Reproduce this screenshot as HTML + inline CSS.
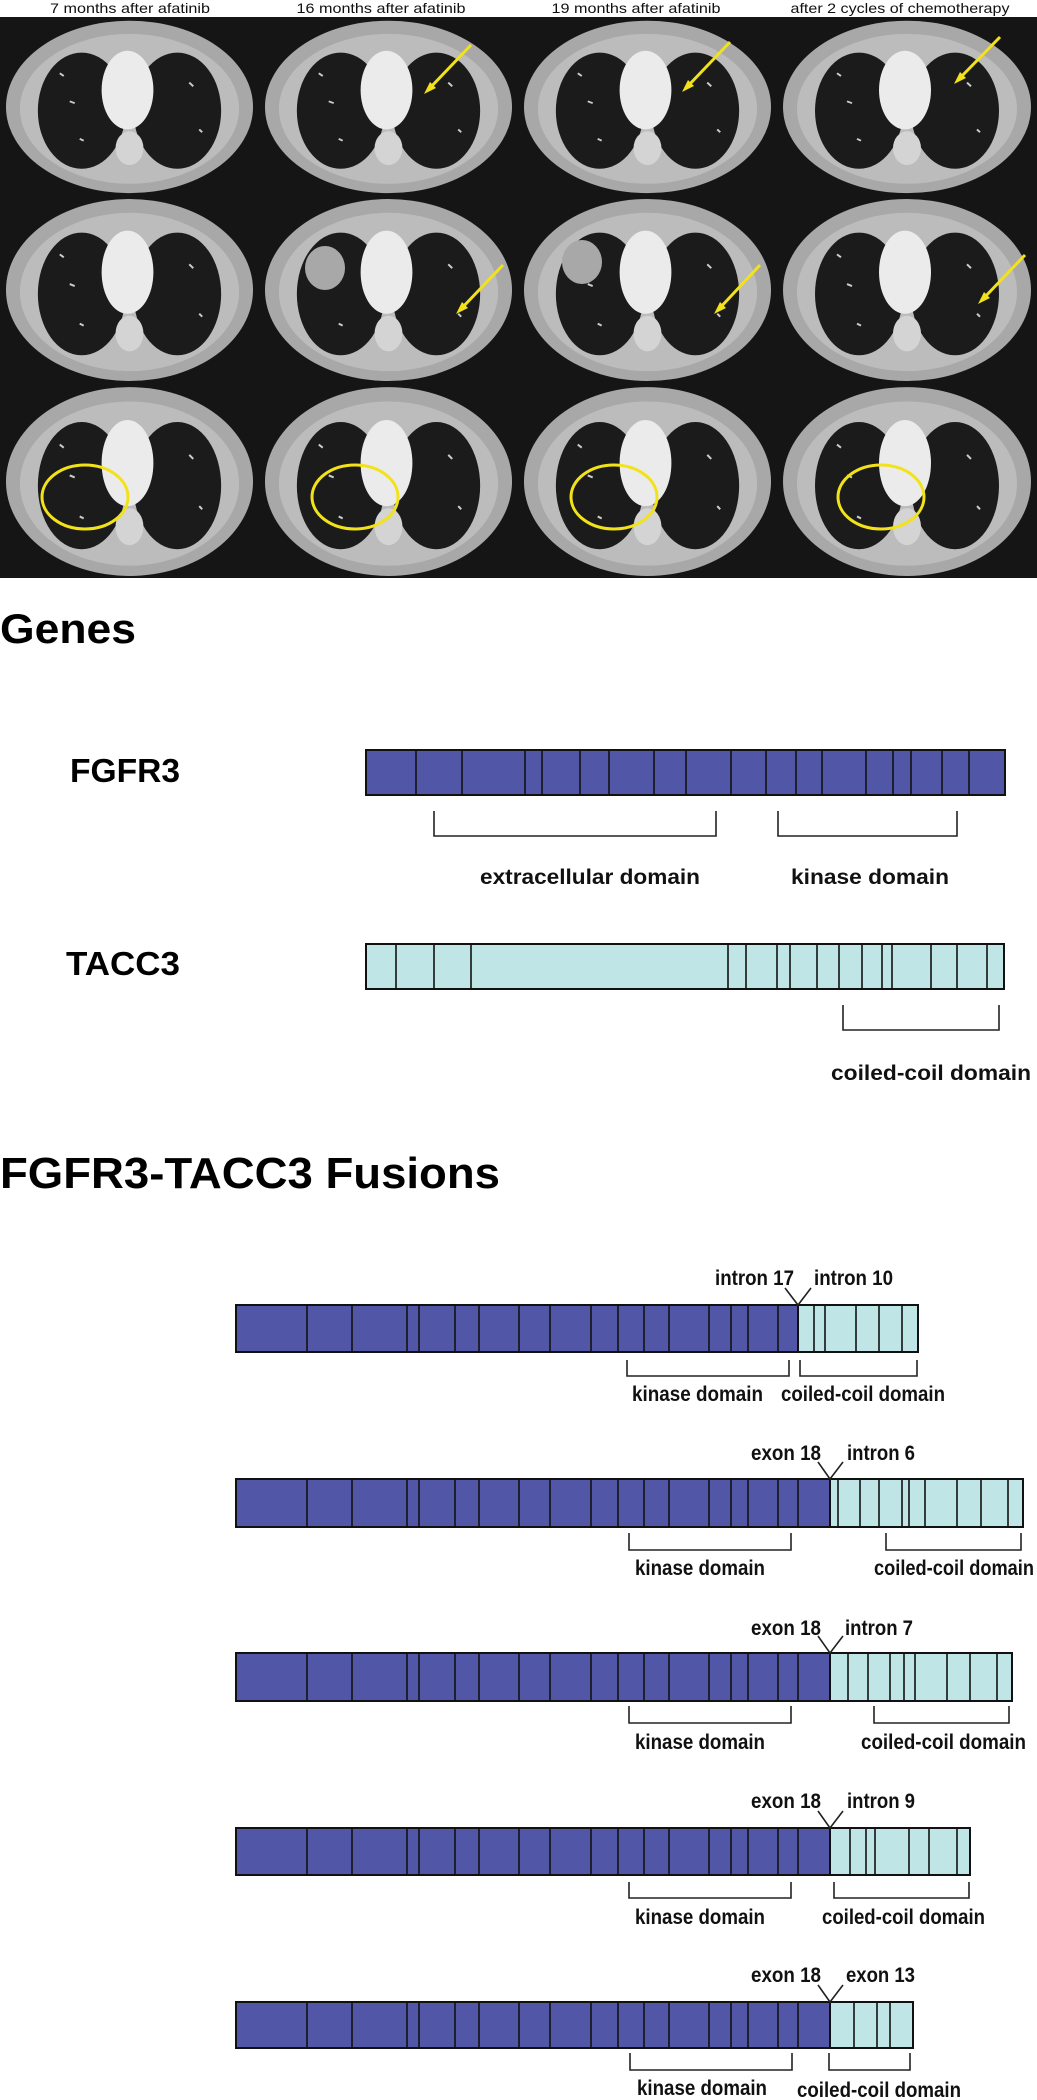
<!DOCTYPE html>
<html><head><meta charset="utf-8"><style>
html,body{margin:0;padding:0;background:#fff;width:1037px;height:2100px;overflow:hidden}
svg{display:block}
.h{font-family:"Liberation Sans",sans-serif;font-size:14px;fill:#111}
.lb{font-family:"Liberation Sans Narrow","Liberation Sans",sans-serif;font-weight:bold;font-size:21px;fill:#111}
.big{font-family:"Liberation Sans Narrow","Liberation Sans",sans-serif;font-weight:bold;fill:#000}
.d{fill:#5157a6;stroke:#111;stroke-width:2}
.c{fill:#bfe5e7;stroke:#111;stroke-width:2}
.v{stroke:#111;stroke-width:1.6}
.br{fill:none;stroke:#222;stroke-width:1.6}
</style></head><body>
<svg width="1037" height="2100" viewBox="0 0 1037 2100" xmlns="http://www.w3.org/2000/svg">
<defs>
<symbol id="ct" viewBox="0 0 260 190" preserveAspectRatio="none">
<rect width="260" height="190" fill="#151515"/>
<ellipse cx="130" cy="96" rx="124" ry="92" fill="#a8a8a8"/>
<ellipse cx="130" cy="98" rx="110" ry="80" fill="#bcbcbc"/>
<ellipse cx="82" cy="100" rx="44" ry="62" fill="#1b1b1b"/>
<ellipse cx="178" cy="100" rx="44" ry="62" fill="#1b1b1b"/>
<ellipse cx="128" cy="78" rx="26" ry="42" fill="#ebebeb"/>
<ellipse cx="130" cy="140" rx="14" ry="18" fill="#d4d4d4"/>
<path d="M60 60 l4 3 M70 90 l5 2 M190 70 l4 4 M200 120 l3 3 M80 130 l4 2" stroke="#ccc" stroke-width="2"/>
</symbol>
</defs>
<text class="h" x="130" y="13" text-anchor="middle" textLength="160" lengthAdjust="spacingAndGlyphs">7 months after afatinib</text>
<text class="h" x="381" y="13" text-anchor="middle" textLength="169" lengthAdjust="spacingAndGlyphs">16 months after afatinib</text>
<text class="h" x="636" y="13" text-anchor="middle" textLength="169" lengthAdjust="spacingAndGlyphs">19 months after afatinib</text>
<text class="h" x="900" y="13" text-anchor="middle" textLength="219" lengthAdjust="spacingAndGlyphs">after 2 cycles of chemotherapy</text>
<rect x="0" y="17" width="1037" height="561" fill="#151515"/>
<use href="#ct" x="0" y="17" width="259" height="178"/>
<use href="#ct" x="259" y="17" width="259" height="178"/>
<use href="#ct" x="518" y="17" width="259" height="178"/>
<use href="#ct" x="777" y="17" width="260" height="178"/>
<use href="#ct" x="0" y="195" width="259" height="188"/>
<use href="#ct" x="259" y="195" width="259" height="188"/>
<use href="#ct" x="518" y="195" width="259" height="188"/>
<use href="#ct" x="777" y="195" width="260" height="188"/>
<use href="#ct" x="0" y="383" width="259" height="195"/>
<use href="#ct" x="259" y="383" width="259" height="195"/>
<use href="#ct" x="518" y="383" width="259" height="195"/>
<use href="#ct" x="777" y="383" width="260" height="195"/>
<ellipse cx="325" cy="268" rx="20" ry="22" fill="#a8a8a8"/>
<ellipse cx="582" cy="262" rx="20" ry="22" fill="#a8a8a8"/>
<g stroke="#f2e21a" stroke-width="3" fill="none">
<line x1="471" y1="45" x2="428" y2="90"/><line x1="730" y1="42" x2="686" y2="88"/><line x1="1000" y1="37" x2="958" y2="80"/>
<line x1="503" y1="265" x2="460" y2="310"/><line x1="760" y1="265" x2="718" y2="310"/><line x1="1025" y1="255" x2="982" y2="300"/>
<ellipse cx="85" cy="497" rx="43" ry="32"/><ellipse cx="355" cy="497" rx="43" ry="32"/><ellipse cx="614" cy="497" rx="43" ry="32"/><ellipse cx="881" cy="497" rx="43" ry="32"/>
</g>
<g fill="#f2e21a"><polygon points="424,94 436,88 430,82"/><polygon points="682,92 694,86 688,80"/><polygon points="954,84 966,78 960,72"/><polygon points="456,314 468,308 462,302"/><polygon points="714,314 726,308 720,302"/><polygon points="978,304 990,298 984,292"/></g>

<text class="big" x="0" y="643" font-size="42" textLength="136" lengthAdjust="spacingAndGlyphs">Genes</text>
<text class="big" x="70" y="782" font-size="33" textLength="110" lengthAdjust="spacingAndGlyphs">FGFR3</text>
<rect class="d" x="366" y="750" width="639" height="45"/>
<g class="v"><line x1="416" y1="750" x2="416" y2="795"/><line x1="462" y1="750" x2="462" y2="795"/><line x1="525" y1="750" x2="525" y2="795"/><line x1="542" y1="750" x2="542" y2="795"/><line x1="580" y1="750" x2="580" y2="795"/><line x1="609" y1="750" x2="609" y2="795"/><line x1="654" y1="750" x2="654" y2="795"/><line x1="686" y1="750" x2="686" y2="795"/><line x1="731" y1="750" x2="731" y2="795"/><line x1="766" y1="750" x2="766" y2="795"/><line x1="796" y1="750" x2="796" y2="795"/><line x1="822" y1="750" x2="822" y2="795"/><line x1="866" y1="750" x2="866" y2="795"/><line x1="893" y1="750" x2="893" y2="795"/><line x1="911" y1="750" x2="911" y2="795"/><line x1="942" y1="750" x2="942" y2="795"/><line x1="969" y1="750" x2="969" y2="795"/></g>
<path class="br" d="M434 811V836H716V811M778 811V836H957V811"/>
<text class="lb" x="480" y="884" textLength="220" lengthAdjust="spacingAndGlyphs">extracellular domain</text>
<text class="lb" x="791" y="884" textLength="158" lengthAdjust="spacingAndGlyphs">kinase domain</text>

<text class="big" x="66" y="975" font-size="33" textLength="114" lengthAdjust="spacingAndGlyphs">TACC3</text>
<rect class="c" x="366" y="944" width="638" height="45"/>
<g class="v"><line x1="396" y1="944" x2="396" y2="989"/><line x1="434" y1="944" x2="434" y2="989"/><line x1="471" y1="944" x2="471" y2="989"/><line x1="728" y1="944" x2="728" y2="989"/><line x1="746" y1="944" x2="746" y2="989"/><line x1="777" y1="944" x2="777" y2="989"/><line x1="790" y1="944" x2="790" y2="989"/><line x1="817" y1="944" x2="817" y2="989"/><line x1="839" y1="944" x2="839" y2="989"/><line x1="862" y1="944" x2="862" y2="989"/><line x1="882" y1="944" x2="882" y2="989"/><line x1="892" y1="944" x2="892" y2="989"/><line x1="931" y1="944" x2="931" y2="989"/><line x1="957" y1="944" x2="957" y2="989"/><line x1="987" y1="944" x2="987" y2="989"/></g>
<path class="br" d="M843 1005V1030H999V1005"/>
<text class="lb" x="831" y="1080" textLength="200" lengthAdjust="spacingAndGlyphs">coiled-coil domain</text>

<text class="big" x="0" y="1188" font-size="44" textLength="500" lengthAdjust="spacingAndGlyphs">FGFR3-TACC3 Fusions</text>

<rect class="c" x="798" y="1305" width="120" height="47"/>
<rect class="d" x="236" y="1305" width="562" height="47"/>
<g class="v"><line x1="307" y1="1305" x2="307" y2="1352"/><line x1="352" y1="1305" x2="352" y2="1352"/><line x1="407" y1="1305" x2="407" y2="1352"/><line x1="419" y1="1305" x2="419" y2="1352"/><line x1="455" y1="1305" x2="455" y2="1352"/><line x1="479" y1="1305" x2="479" y2="1352"/><line x1="519" y1="1305" x2="519" y2="1352"/><line x1="550" y1="1305" x2="550" y2="1352"/><line x1="591" y1="1305" x2="591" y2="1352"/><line x1="618" y1="1305" x2="618" y2="1352"/><line x1="644" y1="1305" x2="644" y2="1352"/><line x1="669" y1="1305" x2="669" y2="1352"/><line x1="709" y1="1305" x2="709" y2="1352"/><line x1="731" y1="1305" x2="731" y2="1352"/><line x1="748" y1="1305" x2="748" y2="1352"/><line x1="778" y1="1305" x2="778" y2="1352"/><line x1="814" y1="1305" x2="814" y2="1352"/><line x1="825" y1="1305" x2="825" y2="1352"/><line x1="856" y1="1305" x2="856" y2="1352"/><line x1="879" y1="1305" x2="879" y2="1352"/><line x1="902" y1="1305" x2="902" y2="1352"/></g>
<path class="br" d="M785 1288L798 1305L811 1288"/>
<text class="lb" x="715" y="1285" textLength="79" lengthAdjust="spacingAndGlyphs">intron 17</text>
<text class="lb" x="814" y="1285" textLength="79" lengthAdjust="spacingAndGlyphs">intron 10</text>
<path class="br" d="M627 1360V1376H789V1360M800 1360V1376H917V1360"/>
<text class="lb" x="632" y="1401" textLength="131" lengthAdjust="spacingAndGlyphs">kinase domain</text>
<text class="lb" x="781" y="1401" textLength="164" lengthAdjust="spacingAndGlyphs">coiled-coil domain</text>

<rect class="c" x="830" y="1479" width="193" height="48"/>
<rect class="d" x="236" y="1479" width="594" height="48"/>
<g class="v"><line x1="307" y1="1479" x2="307" y2="1527"/><line x1="352" y1="1479" x2="352" y2="1527"/><line x1="407" y1="1479" x2="407" y2="1527"/><line x1="419" y1="1479" x2="419" y2="1527"/><line x1="455" y1="1479" x2="455" y2="1527"/><line x1="479" y1="1479" x2="479" y2="1527"/><line x1="519" y1="1479" x2="519" y2="1527"/><line x1="550" y1="1479" x2="550" y2="1527"/><line x1="591" y1="1479" x2="591" y2="1527"/><line x1="618" y1="1479" x2="618" y2="1527"/><line x1="644" y1="1479" x2="644" y2="1527"/><line x1="669" y1="1479" x2="669" y2="1527"/><line x1="709" y1="1479" x2="709" y2="1527"/><line x1="731" y1="1479" x2="731" y2="1527"/><line x1="748" y1="1479" x2="748" y2="1527"/><line x1="778" y1="1479" x2="778" y2="1527"/><line x1="798" y1="1479" x2="798" y2="1527"/><line x1="838" y1="1479" x2="838" y2="1527"/><line x1="860" y1="1479" x2="860" y2="1527"/><line x1="879" y1="1479" x2="879" y2="1527"/><line x1="902" y1="1479" x2="902" y2="1527"/><line x1="909" y1="1479" x2="909" y2="1527"/><line x1="925" y1="1479" x2="925" y2="1527"/><line x1="957" y1="1479" x2="957" y2="1527"/><line x1="981" y1="1479" x2="981" y2="1527"/><line x1="1008" y1="1479" x2="1008" y2="1527"/></g>
<path class="br" d="M818 1462L830 1479L843 1462"/>
<text class="lb" x="751" y="1460" textLength="70" lengthAdjust="spacingAndGlyphs">exon 18</text>
<text class="lb" x="847" y="1460" textLength="68" lengthAdjust="spacingAndGlyphs">intron 6</text>
<path class="br" d="M629 1533V1550H791V1533M886 1533V1550H1021V1533"/>
<text class="lb" x="635" y="1575" textLength="130" lengthAdjust="spacingAndGlyphs">kinase domain</text>
<text class="lb" x="874" y="1575" textLength="160" lengthAdjust="spacingAndGlyphs">coiled-coil domain</text>

<rect class="c" x="830" y="1653" width="182" height="48"/>
<rect class="d" x="236" y="1653" width="594" height="48"/>
<g class="v"><line x1="307" y1="1653" x2="307" y2="1701"/><line x1="352" y1="1653" x2="352" y2="1701"/><line x1="407" y1="1653" x2="407" y2="1701"/><line x1="419" y1="1653" x2="419" y2="1701"/><line x1="455" y1="1653" x2="455" y2="1701"/><line x1="479" y1="1653" x2="479" y2="1701"/><line x1="519" y1="1653" x2="519" y2="1701"/><line x1="550" y1="1653" x2="550" y2="1701"/><line x1="591" y1="1653" x2="591" y2="1701"/><line x1="618" y1="1653" x2="618" y2="1701"/><line x1="644" y1="1653" x2="644" y2="1701"/><line x1="669" y1="1653" x2="669" y2="1701"/><line x1="709" y1="1653" x2="709" y2="1701"/><line x1="731" y1="1653" x2="731" y2="1701"/><line x1="748" y1="1653" x2="748" y2="1701"/><line x1="778" y1="1653" x2="778" y2="1701"/><line x1="798" y1="1653" x2="798" y2="1701"/><line x1="848" y1="1653" x2="848" y2="1701"/><line x1="868" y1="1653" x2="868" y2="1701"/><line x1="890" y1="1653" x2="890" y2="1701"/><line x1="904" y1="1653" x2="904" y2="1701"/><line x1="915" y1="1653" x2="915" y2="1701"/><line x1="947" y1="1653" x2="947" y2="1701"/><line x1="970" y1="1653" x2="970" y2="1701"/><line x1="997" y1="1653" x2="997" y2="1701"/></g>
<path class="br" d="M818 1636L830 1653L843 1636"/>
<text class="lb" x="751" y="1635" textLength="70" lengthAdjust="spacingAndGlyphs">exon 18</text>
<text class="lb" x="845" y="1635" textLength="68" lengthAdjust="spacingAndGlyphs">intron 7</text>
<path class="br" d="M629 1706V1723H791V1706M874 1706V1723H1009V1706"/>
<text class="lb" x="635" y="1749" textLength="130" lengthAdjust="spacingAndGlyphs">kinase domain</text>
<text class="lb" x="861" y="1749" textLength="165" lengthAdjust="spacingAndGlyphs">coiled-coil domain</text>

<rect class="c" x="830" y="1828" width="140" height="47"/>
<rect class="d" x="236" y="1828" width="594" height="47"/>
<g class="v"><line x1="307" y1="1828" x2="307" y2="1875"/><line x1="352" y1="1828" x2="352" y2="1875"/><line x1="407" y1="1828" x2="407" y2="1875"/><line x1="419" y1="1828" x2="419" y2="1875"/><line x1="455" y1="1828" x2="455" y2="1875"/><line x1="479" y1="1828" x2="479" y2="1875"/><line x1="519" y1="1828" x2="519" y2="1875"/><line x1="550" y1="1828" x2="550" y2="1875"/><line x1="591" y1="1828" x2="591" y2="1875"/><line x1="618" y1="1828" x2="618" y2="1875"/><line x1="644" y1="1828" x2="644" y2="1875"/><line x1="669" y1="1828" x2="669" y2="1875"/><line x1="709" y1="1828" x2="709" y2="1875"/><line x1="731" y1="1828" x2="731" y2="1875"/><line x1="748" y1="1828" x2="748" y2="1875"/><line x1="778" y1="1828" x2="778" y2="1875"/><line x1="798" y1="1828" x2="798" y2="1875"/><line x1="850" y1="1828" x2="850" y2="1875"/><line x1="866" y1="1828" x2="866" y2="1875"/><line x1="875" y1="1828" x2="875" y2="1875"/><line x1="909" y1="1828" x2="909" y2="1875"/><line x1="929" y1="1828" x2="929" y2="1875"/><line x1="957" y1="1828" x2="957" y2="1875"/></g>
<path class="br" d="M818 1811L830 1828L843 1811"/>
<text class="lb" x="751" y="1808" textLength="70" lengthAdjust="spacingAndGlyphs">exon 18</text>
<text class="lb" x="847" y="1808" textLength="68" lengthAdjust="spacingAndGlyphs">intron 9</text>
<path class="br" d="M629 1882V1898H791V1882M834 1882V1898H969V1882"/>
<text class="lb" x="635" y="1924" textLength="130" lengthAdjust="spacingAndGlyphs">kinase domain</text>
<text class="lb" x="822" y="1924" textLength="163" lengthAdjust="spacingAndGlyphs">coiled-coil domain</text>

<rect class="c" x="830" y="2002" width="83" height="46"/>
<rect class="d" x="236" y="2002" width="594" height="46"/>
<g class="v"><line x1="307" y1="2002" x2="307" y2="2048"/><line x1="352" y1="2002" x2="352" y2="2048"/><line x1="407" y1="2002" x2="407" y2="2048"/><line x1="419" y1="2002" x2="419" y2="2048"/><line x1="455" y1="2002" x2="455" y2="2048"/><line x1="479" y1="2002" x2="479" y2="2048"/><line x1="519" y1="2002" x2="519" y2="2048"/><line x1="550" y1="2002" x2="550" y2="2048"/><line x1="591" y1="2002" x2="591" y2="2048"/><line x1="618" y1="2002" x2="618" y2="2048"/><line x1="644" y1="2002" x2="644" y2="2048"/><line x1="669" y1="2002" x2="669" y2="2048"/><line x1="709" y1="2002" x2="709" y2="2048"/><line x1="731" y1="2002" x2="731" y2="2048"/><line x1="748" y1="2002" x2="748" y2="2048"/><line x1="778" y1="2002" x2="778" y2="2048"/><line x1="798" y1="2002" x2="798" y2="2048"/><line x1="854" y1="2002" x2="854" y2="2048"/><line x1="877" y1="2002" x2="877" y2="2048"/><line x1="890" y1="2002" x2="890" y2="2048"/></g>
<path class="br" d="M818 1985L830 2002L843 1985"/>
<text class="lb" x="751" y="1982" textLength="70" lengthAdjust="spacingAndGlyphs">exon 18</text>
<text class="lb" x="846" y="1982" textLength="69" lengthAdjust="spacingAndGlyphs">exon 13</text>
<path class="br" d="M630 2053V2070H792V2053M829 2053V2070H910V2053"/>
<text class="lb" x="637" y="2095" textLength="130" lengthAdjust="spacingAndGlyphs">kinase domain</text>
<text class="lb" x="797" y="2097" textLength="164" lengthAdjust="spacingAndGlyphs">coiled-coil domain</text>
</svg>
</body></html>
